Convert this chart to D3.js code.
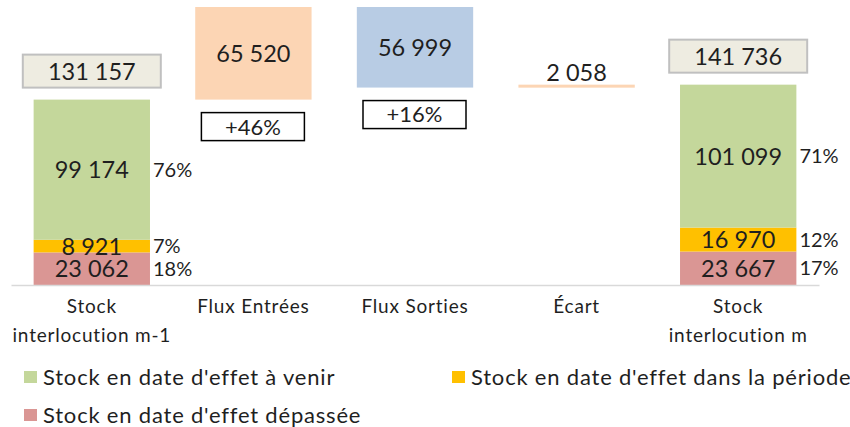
<!DOCTYPE html>
<html lang="fr">
<head>
<meta charset="utf-8">
<title>Stock interlocution</title>
<script src="https://cdn.jsdelivr.net/npm/d3@7"></script>
<style>
  body { margin: 0; background: #fff; }
  svg text { font-family: Lato, "Open Sans", sans-serif; fill: #1f1f1f; }
  .axis path { stroke: #d9d9d9; stroke-width: 1.5; }
  .axis text { font-size: 19px; letter-spacing: 0.8px; }
  .val { font-size: 23.5px; }
  .pct { font-size: 20px; }
  .pctbox { font-size: 22px; }
  .legend text { font-size: 22px; letter-spacing: 0.8px; }
</style>
</head>
<body>
<div id="chart"></div>
<script>
// categories on the x axis
var categories = ["Stock\ninterlocution m-1", "Flux Entrées", "Flux Sorties", "Écart", "Stock\ninterlocution m"];

// stacked stock bars (first and last category)
var stockCats = [categories[0], categories[4]];
var stockDepassee = [23062, 23667];
var stockPeriode = [8921, 16970];
var stockAVenir = [99174, 101099];
var stockTotal = [131157, 141736];
var pctDepassee = ["18%", "17%"];
var pctPeriode = ["7%", "12%"];
var pctAVenir = ["76%", "71%"];

// flows between the two stocks
var fluxCats = [categories[1], categories[2], categories[3]];
var fluxValues = [65520, -56999, 2058];
var fluxColors = ["#fcd5b4", "#b8cce4", "#fcd5b4"];
var fluxPct = ["+46%", "+16%", null];

var legendLabels = ["Stock en date d'effet à venir", "Stock en date d'effet dans la période", "Stock en date d'effet dépassée"];
var stockColors = { depassee: "#da9694", periode: "#ffc000", avenir: "#c4d79b" };

var width = 850, height = 427, baseY = 285;
var fmt = function(v) { return d3.format(",")(Math.abs(v)).replace(/,/g, " "); };

var svg = d3.select("#chart").append("svg")
    .attr("width", width)
    .attr("height", height);

var x = d3.scaleBand()
    .domain(categories)
    .range([11, 819])
    .paddingInner(0.28)
    .paddingOuter(0.14);

// running totals for the waterfall
var steps = [];
var run = stockTotal[0];
fluxValues.forEach(function(v, i) {
    var from = run, to = run + v;
    steps.push({ cat: fluxCats[i], lo: Math.min(from, to), hi: Math.max(from, to), v: v, color: fluxColors[i], pct: fluxPct[i] });
    run = to;
});
var yMax = d3.max(steps, function(d) { return d.hi; });

var y = d3.scaleLinear()
    .domain([0, yMax])
    .range([baseY, 7]);

// stacked bars
var rows = stockCats.map(function(c, i) {
    return { cat: c, depassee: stockDepassee[i], periode: stockPeriode[i], avenir: stockAVenir[i], idx: i };
});
var pcts = { depassee: pctDepassee, periode: pctPeriode, avenir: pctAVenir };
var series = d3.stack().keys(["depassee", "periode", "avenir"])(rows);

var layer = svg.selectAll("g.layer")
    .data(series)
    .enter().append("g")
    .attr("class", "layer")
    .attr("fill", function(d) { return stockColors[d.key]; });

layer.selectAll("rect")
    .data(function(d) { return d; })
    .enter().append("rect")
    .attr("x", function(d) { return x(d.data.cat); })
    .attr("y", function(d) { return y(d[1]); })
    .attr("width", x.bandwidth())
    .attr("height", function(d) { return y(d[0]) - y(d[1]); });

series.forEach(function(s) {
    s.forEach(function(d) {
        var cy = (y(d[0]) + y(d[1])) / 2;
        svg.append("text")
            .attr("class", "val")
            .attr("x", x(d.data.cat) + x.bandwidth() / 2)
            .attr("y", cy)
            .attr("dy", "0.36em")
            .attr("text-anchor", "middle")
            .text(fmt(d.data[s.key]));
        svg.append("text")
            .attr("class", "pct")
            .attr("x", x(d.data.cat) + x.bandwidth() + 3)
            .attr("y", cy)
            .attr("dy", "0.36em")
            .text(pcts[s.key][d.data.idx]);
    });
});

// total boxes above stock bars
stockCats.forEach(function(c, i) {
    var cx = x(c) + x.bandwidth() / 2;
    var top = y(stockTotal[i]);
    svg.append("rect")
        .attr("x", cx - 69)
        .attr("y", top - 45)
        .attr("width", 138)
        .attr("height", 33)
        .attr("fill", "#eeece1")
        .attr("stroke", "#c0c0c0")
        .attr("stroke-width", 2);
    svg.append("text")
        .attr("class", "val")
        .attr("x", cx)
        .attr("y", top - 28.5)
        .attr("dy", "0.36em")
        .attr("text-anchor", "middle")
        .text(fmt(stockTotal[i]));
});

// flow bars
svg.selectAll("rect.flux")
    .data(steps)
    .enter().append("rect")
    .attr("class", "flux")
    .attr("x", function(d) { return x(d.cat); })
    .attr("y", function(d) { return y(d.hi); })
    .attr("width", x.bandwidth())
    .attr("height", function(d) { return Math.max(3, y(d.lo) - y(d.hi)); })
    .attr("fill", function(d) { return d.color; });

steps.forEach(function(d) {
    var cx = x(d.cat) + x.bandwidth() / 2;
    var h = y(d.lo) - y(d.hi);
    var inside = h > 30;
    svg.append("text")
        .attr("class", "val")
        .attr("x", cx)
        .attr("y", inside ? (y(d.lo) + y(d.hi)) / 2 : y(d.hi) - 12)
        .attr("dy", "0.36em")
        .attr("text-anchor", "middle")
        .text(fmt(d.v));
    if (d.pct) {
        var bt = y(d.lo) + 13;
        svg.append("rect")
            .attr("x", cx - 52)
            .attr("y", bt)
            .attr("width", 103)
            .attr("height", 28)
            .attr("fill", "#fff")
            .attr("stroke", "#000")
            .attr("stroke-width", 1.5);
        svg.append("text")
            .attr("class", "pctbox")
            .attr("x", cx - 0.5)
            .attr("y", bt + 14)
            .attr("dy", "0.36em")
            .attr("text-anchor", "middle")
            .text(d.pct);
    }
});

// x axis
var axis = svg.append("g")
    .attr("class", "axis")
    .attr("transform", "translate(0," + baseY + ")")
    .call(d3.axisBottom(x).tickSize(0).tickSizeOuter(0).tickPadding(15));

axis.selectAll(".tick text").each(function(d) {
    var t = d3.select(this).text("");
    d.split("\n").forEach(function(line, i) {
        t.append("tspan")
            .attr("x", 0)
            .attr("dy", i === 0 ? "0.71em" : "1.5em")
            .text(line);
    });
});
axis.selectAll(".tick text").attr("fill", "#1f1f1f");

// legend
var legendPos = [[24, 377], [452, 377], [24, 415]];
var legendCols = [stockColors.avenir, stockColors.periode, stockColors.depassee];
var legend = svg.append("g").attr("class", "legend");
legendLabels.forEach(function(l, i) {
    var p = legendPos[i];
    legend.append("rect")
        .attr("x", p[0])
        .attr("y", p[1] - 6)
        .attr("width", 13)
        .attr("height", 12)
        .attr("fill", legendCols[i]);
    legend.append("text")
        .attr("x", p[0] + 19)
        .attr("y", p[1])
        .attr("dy", "0.36em")
        .text(l);
});
</script>
</body>
</html>
